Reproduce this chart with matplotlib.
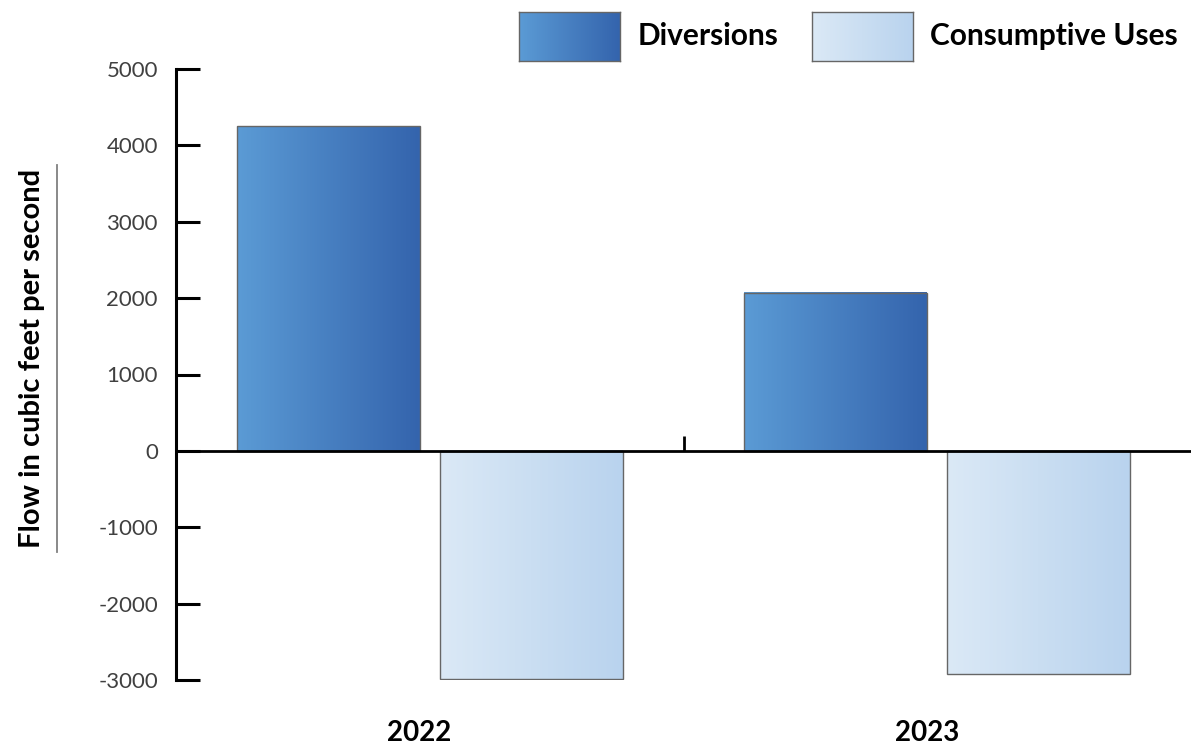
import numpy as np
import matplotlib
matplotlib.use('Agg')
import matplotlib.pyplot as plt
from matplotlib.colors import LinearSegmentedColormap
from matplotlib.lines import Line2D

jahre = ['2022', '2023']
diversions = [4250, 2070]
consumptive = [-2990, -2920]

plt.rcParams['font.family'] = ['Lato', 'DejaVu Sans']
plt.rcParams['axes.unicode_minus'] = False

cmap_div = LinearSegmentedColormap.from_list('div', ['#5b9bd5', '#3464ad'])
cmap_con = LinearSegmentedColormap.from_list('con', ['#dbe9f6', '#b9d3ee'])
grad = np.linspace(0, 1, 256).reshape(1, -1)

fig = plt.figure(figsize=(11.91, 7.49), dpi=100)
ax = fig.add_axes([176/1191, 1-680/749, 1-176/1191, 611/749])

x = np.arange(len(jahre))
breite = 0.36
for werte, versatz, cmap in [(diversions, -0.2, cmap_div), (consumptive, 0.2, cmap_con)]:
    for xi, w in zip(x, werte):
        x0 = xi + versatz - breite/2
        ax.imshow(grad, extent=[x0, x0 + breite, 0, w], aspect='auto', cmap=cmap,
                  origin='lower', zorder=2, interpolation='bicubic')
    ax.bar(x + versatz, werte, breite, fill=False, edgecolor='#666666', linewidth=1.0, zorder=3)

ax.set_xlim(-0.5, 1.5)
ax.set_ylim(-3000, 5000)
ax.set_yticks(np.arange(-3000, 5001, 1000))
ax.tick_params(axis='y', direction='in', length=17, width=2.2, pad=13,
               labelsize=16, labelcolor='#404040')
ax.spines['left'].set_linewidth(2.2)
ax.spines['bottom'].set_position(('data', 0))
ax.spines['bottom'].set_linewidth(2.0)
ax.spines['bottom'].set_zorder(4)
ax.spines['top'].set_visible(False)
ax.spines['right'].set_visible(False)
ax.set_xticks([0.5])
ax.set_xticklabels([''])
ax.tick_params(axis='x', direction='in', length=11, width=2.0)

for xi, j in zip(x, jahre):
    ax.text(xi - 0.02, -0.087, j, transform=ax.get_xaxis_transform(), ha='center', va='center',
            fontsize=20, fontweight='bold')

# y-Beschriftung mit Linie daneben
fig.text(32/1191, 1-358/749, 'Flow in cubic feet per second', rotation=90, ha='center', va='center',
         fontsize=21, fontweight='bold')
fig.add_artist(Line2D([57/1191, 57/1191], [1-165/749, 1-552/749], color='#808080', linewidth=1.3))

# Legende
for (lx, tx, text, cmap) in [(519, 638, 'Diversions', cmap_div), (812, 930, 'Consumptive Uses', cmap_con)]:
    lax = fig.add_axes([lx/1191, 1-61/749, 101/1191, 49/749])
    lax.imshow(grad, aspect='auto', cmap=cmap, interpolation='bicubic')
    lax.set_xticks([])
    lax.set_yticks([])
    for s in lax.spines.values():
        s.set_color('#666666')
        s.set_linewidth(1.0)
    fig.text(tx/1191, 1-36/749, text, ha='left', va='center', fontsize=21.5, fontweight='bold')

fig.savefig('out.png', dpi=100)
